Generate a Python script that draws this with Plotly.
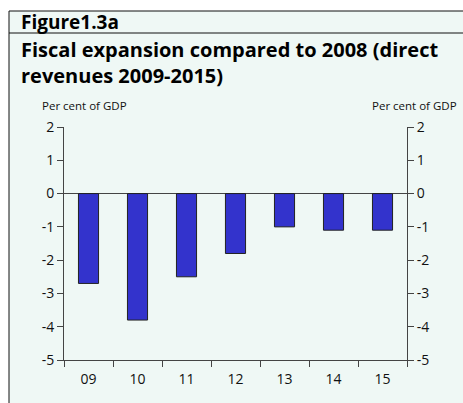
import plotly.graph_objects as go

years = ["09", "10", "11", "12", "13", "14", "15"]
revenue_change = [-2.7, -3.8, -2.5, -1.8, -1.0, -1.1, -1.1]
y_ticks = [2, 1, 0, -1, -2, -3, -4, -5]
y_tick_text = ["2", "1", "0", "-1", "-2", "-3", "-4", "-5"]

W, H = 463, 403
L, R, T, B = 64, 407, 127, 360
mint = "#eff8f5"
font = "Open Sans"


def px(x):
    return (x - L) / (R - L)


def py(y):
    return (B - y) / (B - T)


fig = go.Figure()
fig.add_trace(
    go.Bar(
        x=years,
        y=revenue_change,
        marker=dict(color="#3333cc", line=dict(color="#222222", width=1)),
        showlegend=False,
    )
)
# dummy trace so the right axis is drawn
fig.add_trace(
    go.Scatter(x=years, y=revenue_change, yaxis="y2", mode="none",
               showlegend=False, hoverinfo="skip")
)

axis_common = dict(
    range=[-5, 2],
    tickvals=y_ticks,
    ticktext=y_tick_text,
    showgrid=False,
    showline=True,
    linecolor="#444444",
    linewidth=1,
    ticks="outside",
    ticklen=6,
    tickcolor="#444444",
    tickfont=dict(size=14, color="#111111", family=font),
)

fig.update_layout(
    width=W,
    height=H,
    margin=dict(l=L, r=W - R, t=T, b=H - B),
    paper_bgcolor="white",
    plot_bgcolor="rgba(0,0,0,0)",
    bargap=0.59,
    font=dict(family=font),
    xaxis=dict(
        type="category",
        showgrid=False,
        showline=True,
        linecolor="#444444",
        ticks="outside",
        tickson="boundaries",
        ticklen=6,
        tickcolor="#444444",
        ticklabelstandoff=6,
        tickfont=dict(size=14, color="#111111", family=font),
    ),
    yaxis=dict(**axis_common, zeroline=True, zerolinecolor="#444444", zerolinewidth=1),
    yaxis2=dict(**axis_common, overlaying="y", side="right", zeroline=False),
    shapes=[
        # mint panel with frame
        dict(type="rect", xref="paper", yref="paper", layer="below",
             x0=px(9), x1=px(W + 5), y0=py(H + 5), y1=py(11),
             fillcolor=mint, line=dict(color="#111111", width=1)),
        dict(type="line", xref="paper", yref="paper",
             x0=px(9), x1=px(W + 5), y0=py(33), y1=py(33),
             line=dict(color="#111111", width=1)),
    ],
    annotations=[
        dict(text="<b>Figure1.3a</b>", xref="paper", yref="paper",
             x=px(19), y=py(22), xanchor="left", yanchor="middle",
             showarrow=False, font=dict(size=19, color="#000000")),
        dict(text="<b>Fiscal expansion compared to 2008 (direct<br>revenues 2009-2015)</b>",
             xref="paper", yref="paper", x=px(19), y=py(34),
             xanchor="left", yanchor="top", align="left",
             showarrow=False, font=dict(size=20, color="#000000")),
        dict(text="Per cent of GDP", xref="paper", yref="paper",
             x=px(40), y=py(105), xanchor="left", yanchor="middle",
             showarrow=False, font=dict(size=11.5, color="#111111")),
        dict(text="Per cent of GDP", xref="paper", yref="paper",
             x=px(459), y=py(105), xanchor="right", yanchor="middle",
             showarrow=False, font=dict(size=11.5, color="#111111")),
    ],
)

fig.write_html("out.html", config={"displayModeBar": False},
               post_script="document.body.style.margin='0px';")
